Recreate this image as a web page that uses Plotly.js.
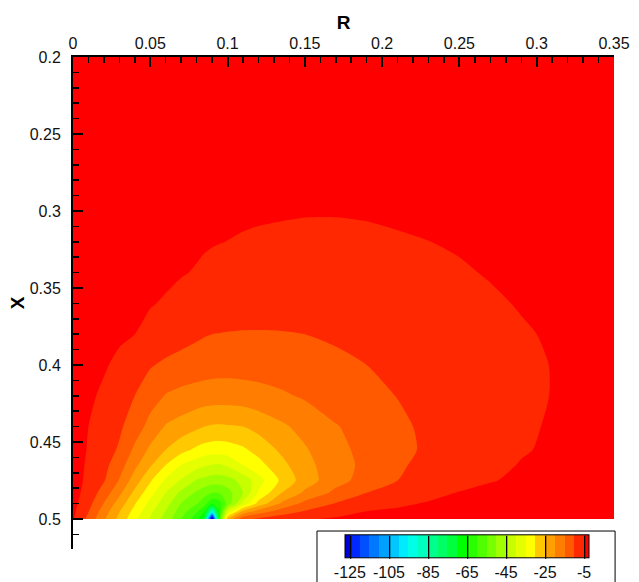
<!DOCTYPE html>
<html>
<head>
<meta charset="utf-8">
<script src="https://cdn.plot.ly/plotly-3.0.1.min.js"></script>
<style>html,body{margin:0;padding:0;background:#fff;overflow:hidden;}#chart{width:639px;height:582px;}</style>
</head>
<body>
<div id="chart"></div>
<script>
// Grid coordinates (R across, X down)
const R = [0, 0.01, 0.02, 0.03, 0.04, 0.05, 0.06, 0.07, 0.08, 0.085, 0.09, 0.095, 0.1, 0.11, 0.12, 0.135, 0.15, 0.17, 0.19, 0.21, 0.23, 0.25, 0.27, 0.29, 0.31, 0.33, 0.35];
const X = [0.2, 0.25, 0.28, 0.3, 0.32, 0.34, 0.36, 0.38, 0.4, 0.42, 0.44, 0.455, 0.465, 0.475, 0.483, 0.49, 0.495, 0.5];

// Field values, one row per X value
const Z = [
  [-0.9,-0.9,-1,-1.1,-1.2,-1.3,-1.4,-1.4,-1.5,-1.5,-1.6,-1.6,-1.6,-1.7,-1.7,-1.8,-1.8,-1.8,-1.8,-1.8,-1.8,-1.7,-1.7,-1.6,-1.6,-1.5,-1.5],
  [-1.3,-1.4,-1.5,-1.7,-1.8,-2,-2.1,-2.3,-2.4,-2.5,-2.5,-2.6,-2.6,-2.7,-2.8,-2.9,-2.9,-3,-2.9,-2.9,-2.8,-2.7,-2.6,-2.5,-2.4,-2.3,-2.2],
  [-1.6,-1.7,-1.9,-2.1,-2.4,-2.6,-2.8,-3,-3.2,-3.3,-3.4,-3.5,-3.6,-3.7,-3.8,-3.9,-4,-4,-3.9,-3.8,-3.7,-3.5,-3.4,-3.2,-3.1,-2.9,-2.8],
  [-1.8,-2,-2.2,-2.5,-2.8,-3.1,-3.4,-3.7,-4,-4.1,-4.2,-4.3,-4.4,-4.5,-4.6,-4.7,-4.8,-4.8,-4.7,-4.5,-4.3,-4.1,-3.9,-3.7,-3.5,-3.3,-3.2],
  [-2,-2.2,-2.5,-2.8,-3.2,-3.5,-3.9,-4.2,-4.55,-4.7,-4.82,-4.93,-5.03,-5.25,-5.42,-5.6,-5.75,-5.8,-5.6,-5.3,-5.03,-4.7,-4.4,-4.1,-3.8,-3.6,-3.4],
  [-2.2,-2.5,-2.8,-3.1,-3.5,-3.9,-4.4,-4.8,-5.2,-5.5,-5.8,-6,-6.1,-6.3,-6.5,-6.7,-6.9,-6.9,-6.6,-6.2,-5.8,-5.3,-4.8,-4.4,-4.1,-3.8,-3.6],
  [-2.4,-2.7,-3.1,-3.6,-4.2,-4.8,-5.3,-6,-6.6,-6.9,-7.2,-7.4,-7.6,-7.9,-8.1,-8.3,-8.4,-8.2,-7.8,-7.2,-6.6,-6,-5.4,-4.8,-4.4,-4.1,-3.8],
  [-2.6,-3,-3.5,-4.2,-5,-6,-7.1,-8.1,-9.2,-9.7,-10,-10.1,-10.2,-10.3,-10.3,-10.2,-10,-9.4,-8.7,-8,-7.3,-6.6,-5.9,-5.3,-4.7,-4.3,-4],
  [-2.8,-3.6,-4.5,-6.1,-7.9,-9.6,-10.9,-11.8,-12.4,-12.7,-12.9,-13,-13,-12.9,-12.7,-12.3,-11.7,-10.9,-10,-9.1,-8.3,-7.4,-6.6,-5.8,-4.9,-4.5,-4.1],
  [-2.8,-4.2,-5.8,-7.9,-10,-12.8,-15.3,-16.3,-17,-17.3,-17.5,-17.6,-17.6,-17.3,-16.8,-15.7,-14.4,-12.5,-11.1,-9.9,-8.8,-7.8,-6.9,-5.9,-4.9,-4.4,-4],
  [-3,-5,-7.1,-9.2,-12.5,-16.7,-20.4,-22,-24,-25,-25.5,-25.6,-25.4,-25,-23.3,-20.8,-18.4,-15.3,-13,-10.8,-9.2,-8,-6.8,-5.7,-4.6,-4.1,-3.8],
  [-3,-5.3,-7.8,-10.6,-16,-21,-25,-28.3,-31,-32,-32.5,-32.6,-32.3,-30.8,-28.2,-24,-20.5,-16.4,-13.5,-11,-9.4,-8.1,-6.8,-5.3,-4.5,-4,-3.7],
  [-3,-5.7,-8.6,-12.8,-18.8,-24.4,-30,-35,-38,-39.3,-40.3,-40.5,-39.2,-35,-31.7,-26.4,-21.6,-17,-13.8,-10.6,-8.8,-7.4,-6,-4.8,-4.2,-3.8,-3.6],
  [-3,-6.1,-9.6,-15.3,-22.5,-29.4,-35.9,-40.6,-45.5,-46.5,-47.5,-47.5,-47,-43.3,-37,-28.9,-22.5,-16.8,-13,-10,-8.4,-6.8,-5.2,-4.4,-3.9,-3.6,-3.4],
  [-3.2,-6.9,-12.2,-18.8,-26.3,-33.1,-40,-46.2,-50.8,-52.9,-55,-54.5,-52,-45,-34.4,-25,-19.1,-13.8,-10,-8.2,-6.4,-4.8,-4.1,-3.7,-3.4,-3.2,-3],
  [-3.5,-8.3,-15.2,-22.3,-29.6,-36.6,-42.9,-50.2,-54.5,-58.3,-64,-61.7,-53.3,-38.6,-28.3,-19.2,-13.5,-9.7,-7.7,-5.8,-4.6,-4,-3.6,-3.3,-3.1,-2.9,-2.8],
  [-4,-9.7,-17.5,-24.7,-31.7,-38.7,-45.2,-52.4,-59.2,-64.5,-90,-62,-40,-24,-18,-12.7,-9.7,-7.3,-5,-4.3,-3.8,-3.5,-3.2,-3,-2.8,-2.7,-2.6],
  [-4.5,-11.5,-19.3,-26.5,-33.8,-40.6,-47,-55,-63.5,-72,-140,-58,-25,-11.5,-9.2,-7.3,-5.5,-4.4,-3.8,-3.4,-3.1,-2.9,-2.7,-2.5,-2.4,-2.3,-2.2]
];

// Contour levels and band colours (lowest band first)
const LEVEL_START = -125, LEVEL_END = -5, LEVEL_STEP = 5;
const LEGEND_LINE_STEP = 20;
const BAND_COLORS = [
  'rgb(0,0,215)','rgb(0,40,255)','rgb(0,80,255)','rgb(0,120,255)','rgb(0,160,255)',
  'rgb(0,200,255)','rgb(0,235,255)','rgb(0,255,230)','rgb(0,255,190)','rgb(0,255,140)',
  'rgb(0,255,100)','rgb(0,255,60)','rgb(0,255,0)','rgb(40,255,0)','rgb(80,255,0)',
  'rgb(120,255,0)','rgb(160,255,0)','rgb(200,255,0)','rgb(230,255,0)','rgb(255,255,0)',
  'rgb(255,200,0)','rgb(255,160,0)','rgb(255,125,0)','rgb(255,90,0)','rgb(255,40,0)','rgb(255,0,0)'
];
const CB_TICKS = [-125, -105, -85, -65, -45, -25, -5];
const CB_LABELS = ['-125', '-105', '-85', '-65', '-45', '-25', '-5'];
const R_TICKS = [0, 0.05, 0.1, 0.15, 0.2, 0.25, 0.3, 0.35];
const X_TICKS = [0.2, 0.25, 0.3, 0.35, 0.4, 0.45, 0.5];

const colorscale = BAND_COLORS.map((c, i) => [i / (BAND_COLORS.length - 1), c]);
const FONT = 'Liberation Sans, Arial, Helvetica, sans-serif';

// Legend bar length: filled bar spans one half-band beyond the first and last level
const CB_LEN = 244;
const nBands = BAND_COLORS.length - 1;
const LINE_BAR_LEN = CB_LEN * ((LEVEL_END - LEVEL_START) / LEVEL_STEP) / nBands;

const cbCommon = {
  orientation: 'h', x: 0.7283, xanchor: 'center', y: 0, yanchor: 'bottom',
  lenmode: 'pixels', thickness: 23, thicknessmode: 'pixels',
  borderwidth: 0, xpad: 0, ypad: 0,
  tickmode: 'array', tickvals: CB_TICKS, ticktext: CB_LABELS, tickangle: 0,
  ticks: 'outside', ticklen: 1, tickcolor: 'rgba(0,0,0,0)'
};

const fieldTrace = {
  type: 'contour',
  x: R, y: X, z: Z,
  colorscale: colorscale,
  contours: {start: LEVEL_START, end: LEVEL_END, size: LEVEL_STEP, coloring: 'fill', showlines: false},
  line: {width: 0, smoothing: 0.7},
  hoverinfo: 'skip',
  colorbar: Object.assign({}, cbCommon, {
    len: CB_LEN, outlinewidth: 1, outlinecolor: '#000',
    tickfont: {family: FONT, size: 16, color: '#111'}
  })
};

// Same field on a hidden axis: only used to draw the black level lines of the legend
const legendLinesTrace = {
  type: 'contour',
  x: R, y: X, z: Z,
  xaxis: 'x2', yaxis: 'y',
  colorscale: [[0, '#000'], [1, '#000']],
  contours: {start: LEVEL_START, end: LEVEL_END, size: LEGEND_LINE_STEP, coloring: 'lines', showlines: true},
  line: {width: 1.3},
  hoverinfo: 'skip',
  colorbar: Object.assign({}, cbCommon, {
    len: LINE_BAR_LEN, outlinewidth: 0,
    tickfont: {family: FONT, size: 16, color: 'rgba(0,0,0,0)'}
  })
};

const axisCommon = {
  ticks: 'inside', ticklen: 10, tickwidth: 2, tickcolor: '#000',
  showline: true, linecolor: '#000', linewidth: 2, mirror: false,
  showgrid: false, zeroline: false,
  tickfont: {family: FONT, size: 16, color: '#111'},
  minor: {dtick: 0.01, ticks: 'inside', ticklen: 6, tickwidth: 1.5, tickcolor: '#000', showgrid: false}
};

const layout = {
  width: 639, height: 582,
  margin: {l: 73, r: 25, t: 57, b: 0},
  paper_bgcolor: '#fff', plot_bgcolor: 'rgba(0,0,0,0)',
  showlegend: false,
  xaxis: Object.assign({}, axisCommon, {
    side: 'top', range: [0, 0.35], tickmode: 'array', tickvals: R_TICKS,
    minor: Object.assign({}, axisCommon.minor, {tick0: 0}),
    title: {text: '<b>R</b>', font: {family: FONT, size: 19, color: '#000'}, standoff: 0}
  }),
  xaxis2: {overlaying: 'x', range: [10, 11], visible: false},
  yaxis: Object.assign({}, axisCommon, {
    domain: [0.0629, 1],
    range: [0.5195, 0.2], tickmode: 'array', tickvals: X_TICKS,
    minor: Object.assign({}, axisCommon.minor, {tick0: 0.2}),
    ticklabelstandoff: 7,
    title: {text: '<b>X</b>', font: {family: FONT, size: 19, color: '#000'}, standoff: 0}
  }),
  shapes: [{
    type: 'rect', xref: 'paper', yref: 'paper',
    x0: 0.451, x1: 1.002, y0: -0.05, y1: 0.0971,
    line: {color: '#000', width: 1}, fillcolor: 'rgba(0,0,0,0)', layer: 'below'
  }]
};

Plotly.newPlot('chart', [fieldTrace, legendLinesTrace], layout, {displayModeBar: false, staticPlot: true});
</script>
</body>
</html>
